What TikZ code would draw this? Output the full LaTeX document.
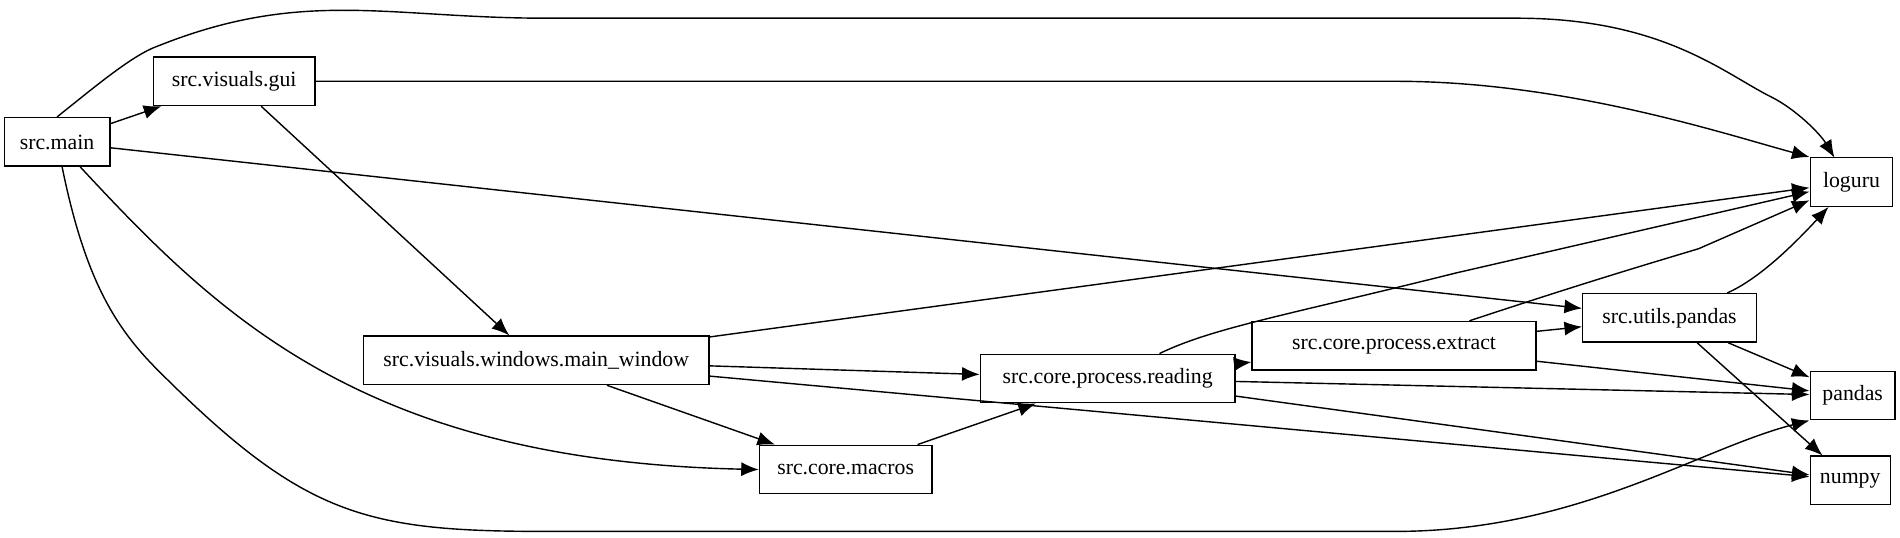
\documentclass[tikz,border=0pt]{standalone}
\usepackage{fontspec}
\setmainfont{Liberation Serif}
\usepackage{tikz}
\usetikzlibrary{arrows.meta}
\begin{document}
\begin{tikzpicture}[x=0.01213cm, y=-0.01213cm,
  mod/.style={draw, rectangle, inner sep=0pt, minimum height=0.485cm, font=\fontsize{6.2}{7}\selectfont},
  dep/.style={-{Latex[length=5pt,width=4pt]}, line width=0.4pt}]
  \useasboundingbox (0,0) rectangle (1566,443.4);
  % Nodes
  \foreach \n/\x/\y/\w/\t in {main/47/117/87/src.main, gui/193/67/133/src.visuals.gui,
      loguru/1526/150/68/loguru, win/442/297/285/src.visuals.windows.main\_window,
      read/913/312/210/src.core.process.reading, extr/1149/285/234/src.core.process.extract,
      upd/1376/262/143/src.utils.pandas, pd/1527/326/70/pandas,
      np/1525/396/66/numpy, macros/697/387/142/src.core.macros}{
    \node[mod, minimum width=\w*0.01213cm] (\n) at (\x,\y) {\t};
  }
  % Edges
  \draw[dep] (main) -- (gui);
  \draw[dep] (main.north) .. controls (80,70) and (110,45) .. (130,38)
     .. controls (250,-10) and (320,15) .. (450,15) -- (1250,15)
     .. controls (1370,15) and (1420,60) .. (1460,80) .. controls (1480,90) and (1500,110) .. (1512,130);
  \draw[dep] (gui.east) -- (1150,67) .. controls (1290,67) and (1420,110) .. (loguru.north west);
  \draw[dep] (gui) -- (win);
  \draw[dep] (main) -- (upd);
  \draw[dep] (main) .. controls (180,260) and (300,380) .. (macros.west);
  \draw[dep] (main) .. controls (70,230) and (95,270) .. (130,305)
     .. controls (250,425) and (300,438) .. (450,438) -- (1150,438)
     .. controls (1300,438) and (1400,370) .. (pd.south west);
  \foreach \a/\b in {win/loguru, win/read, win/macros, macros/read, read/extr,
      read/pd, read/np, extr/upd, extr/pd, upd/pd, upd/np}{
    \draw[dep] (\a) -- (\b);
  }
  \draw[dep] (win) -- (np);
  \draw[dep] (read) .. controls (1000,270) and (1060,260) .. (1200,225) -- (loguru);
  \draw[dep] (extr) .. controls (1300,235) and (1350,220) .. (1400,205) -- (loguru);
  \draw[dep] (upd) .. controls (1450,230) and (1480,200) .. (loguru);
\end{tikzpicture}
\end{document}
